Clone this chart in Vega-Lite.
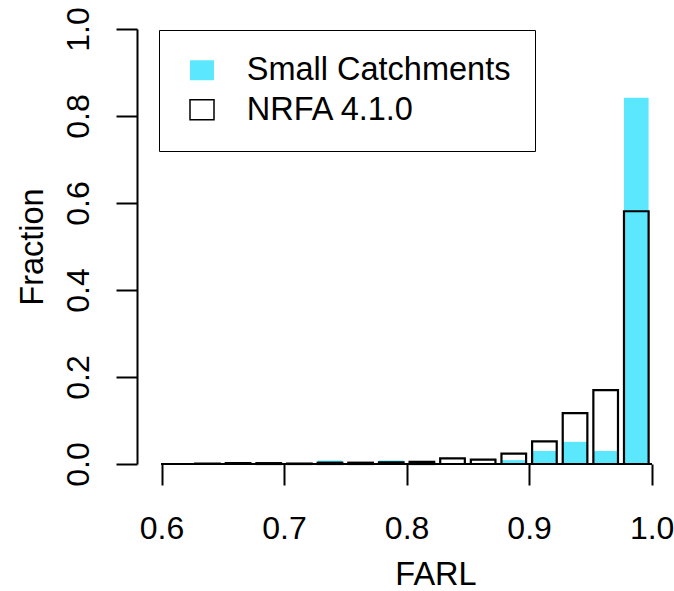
{
  "$schema": "https://vega.github.io/schema/vega-lite/v6.json",
  "width": 533,
  "height": 435,
  "autosize": {"type": "none"},
  "padding": {"left": 137, "top": 29, "right": 4, "bottom": 127},
  "background": "white",
  "config": {"view": {"stroke": null}, "font": "Liberation Sans"},
  "data": {
    "values": [
      {"series": "Small Catchments", "bin_start": 0.725, "bin_end": 0.75, "fraction": 0.008},
      {"series": "Small Catchments", "bin_start": 0.775, "bin_end": 0.8, "fraction": 0.008},
      {"series": "Small Catchments", "bin_start": 0.875, "bin_end": 0.9, "fraction": 0.009},
      {"series": "Small Catchments", "bin_start": 0.9, "bin_end": 0.925, "fraction": 0.030},
      {"series": "Small Catchments", "bin_start": 0.925, "bin_end": 0.95, "fraction": 0.051},
      {"series": "Small Catchments", "bin_start": 0.95, "bin_end": 0.975, "fraction": 0.030},
      {"series": "Small Catchments", "bin_start": 0.975, "bin_end": 1.0, "fraction": 0.842},
      {"series": "NRFA 4.1.0", "bin_start": 0.625, "bin_end": 0.65, "fraction": 0.001},
      {"series": "NRFA 4.1.0", "bin_start": 0.65, "bin_end": 0.675, "fraction": 0.002},
      {"series": "NRFA 4.1.0", "bin_start": 0.675, "bin_end": 0.7, "fraction": 0.002},
      {"series": "NRFA 4.1.0", "bin_start": 0.7, "bin_end": 0.725, "fraction": 0.001},
      {"series": "NRFA 4.1.0", "bin_start": 0.725, "bin_end": 0.75, "fraction": 0.003},
      {"series": "NRFA 4.1.0", "bin_start": 0.75, "bin_end": 0.775, "fraction": 0.003},
      {"series": "NRFA 4.1.0", "bin_start": 0.775, "bin_end": 0.8, "fraction": 0.004},
      {"series": "NRFA 4.1.0", "bin_start": 0.8, "bin_end": 0.825, "fraction": 0.005},
      {"series": "NRFA 4.1.0", "bin_start": 0.825, "bin_end": 0.85, "fraction": 0.013},
      {"series": "NRFA 4.1.0", "bin_start": 0.85, "bin_end": 0.875, "fraction": 0.010},
      {"series": "NRFA 4.1.0", "bin_start": 0.875, "bin_end": 0.9, "fraction": 0.024},
      {"series": "NRFA 4.1.0", "bin_start": 0.9, "bin_end": 0.925, "fraction": 0.052},
      {"series": "NRFA 4.1.0", "bin_start": 0.925, "bin_end": 0.95, "fraction": 0.117},
      {"series": "NRFA 4.1.0", "bin_start": 0.95, "bin_end": 0.975, "fraction": 0.170},
      {"series": "NRFA 4.1.0", "bin_start": 0.975, "bin_end": 1.0, "fraction": 0.581}
    ]
  },
  "encoding": {
    "x": {
      "field": "bin_start",
      "type": "quantitative",
      "title": "FARL",
      "scale": {"domain": [0.58, 1.015], "nice": false, "zero": false},
      "axis": {
        "values": [0.6, 0.7, 0.8, 0.9, 1.0],
        "format": ".1f",
        "grid": false,
        "domain": false,
        "tickColor": "black",
        "tickWidth": 2,
        "tickSize": 21,
        "labelAngle": 0,
        "labelAlign": "center",
        "labelBaseline": "alphabetic",
        "labelPadding": 53,
        "labelFontSize": 32,
        "labelFont": "Liberation Sans",
        "labelColor": "black",
        "labelOverlap": false,
        "labelFlush": false,
        "labelBound": false,
        "titleFontSize": 32.5,
        "titleFont": "Liberation Sans",
        "titleFontWeight": "normal",
        "titleColor": "black",
        "titleX": 298.5,
        "titleY": 120.5,
        "titleAlign": "center",
        "titleBaseline": "alphabetic"
      }
    },
    "x2": {"field": "bin_end"},
    "y": {
      "field": "fraction",
      "type": "quantitative",
      "title": "Fraction",
      "stack": null,
      "scale": {"domain": [0, 1], "nice": false},
      "axis": {
        "values": [0, 0.2, 0.4, 0.6, 0.8, 1.0],
        "format": ".1f",
        "grid": false,
        "domainColor": "black",
        "domainWidth": 2,
        "tickColor": "black",
        "tickWidth": 2,
        "tickSize": 21,
        "labelAngle": -90,
        "labelAlign": "center",
        "labelBaseline": "alphabetic",
        "labelPadding": 28,
        "labelFontSize": 32,
        "labelFont": "Liberation Sans",
        "labelColor": "black",
        "labelOverlap": false,
        "labelFlush": false,
        "labelBound": false,
        "titleFontSize": 32.5,
        "titleFont": "Liberation Sans",
        "titleFontWeight": "normal",
        "titleColor": "black",
        "titleX": -95,
        "titleY": 217.5,
        "titleAngle": -90,
        "titleAlign": "center",
        "titleBaseline": "alphabetic"
      }
    },
    "y2": {"datum": 0},
    "fill": {
      "field": "series",
      "type": "nominal",
      "scale": {"domain": ["Small Catchments", "NRFA 4.1.0"], "range": ["#5BE8FF", "transparent"]},
      "legend": {
        "title": null,
        "orient": "none",
        "legendX": 22,
        "legendY": 1,
        "padding": 24,
        "strokeColor": "black",
        "fillColor": "white",
        "symbolType": "M-1,-0.833L1,-0.833L1,0.833L-1,0.833Z",
        "symbolSize": 576,
        "symbolStrokeWidth": 1.5,
        "labelFontSize": 32.5,
        "labelFont": "Liberation Sans",
        "labelColor": "black",
        "labelLimit": 500,
        "labelOffset": 28.5,
        "symbolOffset": 2.75,
        "rowPadding": 6.5,
        "labelBaseline": "middle"
      }
    },
    "stroke": {
      "field": "series",
      "type": "nominal",
      "scale": {"domain": ["Small Catchments", "NRFA 4.1.0"], "range": ["transparent", "black"]},
      "legend": {
        "title": null,
        "orient": "none",
        "legendX": 22,
        "legendY": 1,
        "padding": 24,
        "strokeColor": "black",
        "fillColor": "white",
        "symbolType": "M-1,-0.833L1,-0.833L1,0.833L-1,0.833Z",
        "symbolSize": 576,
        "symbolStrokeWidth": 1.5,
        "labelFontSize": 32.5,
        "labelFont": "Liberation Sans",
        "labelColor": "black",
        "labelLimit": 500,
        "labelOffset": 28.5,
        "symbolOffset": 2.75,
        "rowPadding": 6.5,
        "labelBaseline": "middle"
      }
    }
  },
  "layer": [
    {
      "transform": [{"filter": "datum.series == 'Small Catchments'"}],
      "mark": {"type": "bar", "xOffset": 3, "x2Offset": -3, "strokeWidth": 2.2}
    },
    {
      "transform": [{"filter": "datum.series == 'NRFA 4.1.0'"}],
      "mark": {"type": "bar", "xOffset": 3, "x2Offset": -3, "strokeWidth": 2.2}
    },
    {
      "mark": {"type": "rule", "strokeWidth": 2, "color": "black"},
      "encoding": {
        "x": {"datum": 0.6},
        "x2": {"datum": 1.0},
        "y": {"datum": 0},
        "y2": null,
        "fill": null,
        "stroke": null
      }
    }
  ]
}
